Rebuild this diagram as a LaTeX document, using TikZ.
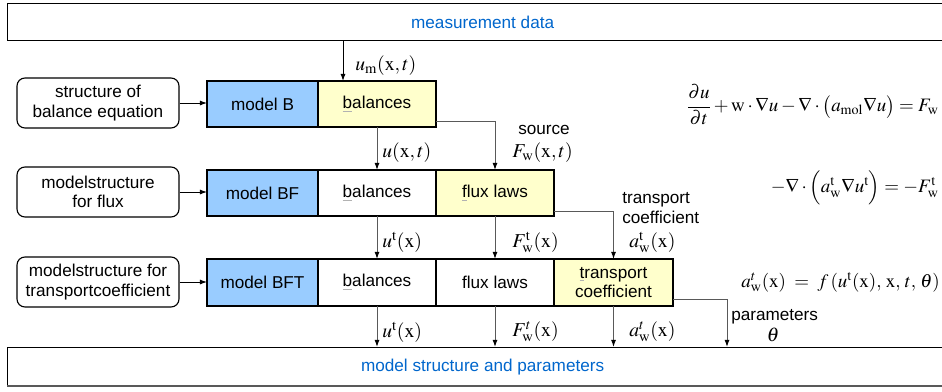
\documentclass[tikz,border=0pt]{standalone}
\usepackage{amsmath}
\usepackage{mathptmx}
\usepackage[no-math]{fontspec}
\setmainfont{Liberation Sans}
\usetikzlibrary{arrows.meta, positioning}

\definecolor{modelblue}{RGB}{153,204,255}
\definecolor{activeyellow}{RGB}{255,255,204}
\definecolor{titleblue}{RGB}{0,102,204}

% first letter with the faint gray mark under it
\newcommand{\markfirst}[1]{{\color{black!30}\underline{\color{black}#1}}}

\begin{document}
\begin{tikzpicture}[
    x=0.25mm, y=-0.25mm,
    font=\fontsize{12.2}{14}\selectfont,
    box/.style={draw, line width=0.9pt, minimum height=11.5mm, outer sep=0pt, align=center},
    modelbox/.style={box, fill=modelblue, minimum width=27.75mm},
    partbox/.style={box, fill=white, minimum width=29.5mm},
    activebox/.style={box, fill=activeyellow, minimum width=29.5mm},
    structbox/.style={draw, line width=0.8pt, rounded corners=2mm, minimum width=40.5mm, minimum height=12.5mm, align=center, inner sep=1pt},
    databox/.style={draw, line width=0.9pt, minimum width=237.5mm, minimum height=9.25mm, text=titleblue, anchor=north west},
    feed/.style={line width=0.6pt, -{Latex[length=5pt, width=3.5pt]}},
    flow/.style={line width=0.7pt, draw=black!65, -{Latex[length=5pt, width=3.5pt, black]}},
    mlbl/.style={inner sep=0pt, font=\fontsize{14}{16}\selectfont},
    eqlbl/.style={inner sep=0pt, font=\fontsize{13.5}{15}\selectfont},
    tlbl/.style={inner sep=0pt, align=left}
]
    \clip (0,0) rectangle (942,391);

    % data boxes on top and bottom
    \node[databox] (meas) at (7,3) {measurement data};
    \node[databox, minimum height=9.5mm] (result) at (7,347) {model structure and parameters};
    \draw[black!65, line width=1.6pt] (result.south west) -- (result.south east);

    % structure boxes on the left
    \node[structbox] (strB) at (98,103) {structure of\\balance equation};
    \node[structbox] (strBF) at (98,192) {modelstructure\\for flux};
    \node[structbox] (strBFT) at (98,282) {modelstructure for\\transportcoefficient};

    % model B
    \node[modelbox] (modB) at (262.5,104) {model B};
    \node[activebox, right=0pt of modB] (balB) {\markfirst{b}alances};

    % model BF
    \node[modelbox] (modBF) at (262.5,193) {model BF};
    \node[partbox, right=0pt of modBF] (balBF) {\markfirst{b}alances};
    \node[activebox, right=0pt of balBF] (fluxBF) {\markfirst{f}lux laws};

    % model BFT
    \node[modelbox, minimum height=11.75mm] (modBFT) at (262.5,282.5) {model BFT};
    \node[partbox, minimum height=11.75mm, right=0pt of modBFT] (balBFT) {\markfirst{b}alances};
    \node[partbox, minimum height=11.75mm, right=0pt of balBFT] (fluxBFT) {flux laws};
    \node[activebox, minimum height=11.75mm, minimum width=29.75mm, right=0pt of fluxBFT] (trBFT) {\markfirst{t}ransport\\coefficient};

    % structure into the models
    \draw[feed] (strB.east) -- (strB.east -| modB.west);
    \draw[feed] (strBF.east) -- (strBF.east -| modBF.west);
    \draw[feed] (strBFT.east) -- (strBFT.east -| modBFT.west);

    % measurements into the balances
    \coordinate (umx) at (343,0);
    \draw[feed] (meas.south -| umx) -- (balB.north -| umx);
    \node[mlbl, anchor=west] (lUm) at (355,66) {$u_{\mathrm{m}}(\mathrm{x},t)$};

    % model B to model BF
    \draw[flow] (balB.south) -- (balBF.north);
    \draw[flow] ([yshift=1.5mm]balB.south east) -| (fluxBF.north);
    \node[mlbl, anchor=west] (lU) at (382,153) {$u(\mathrm{x},t)$};
    \node[tlbl, anchor=west] (lSrc) at (518,130) {source};
    \node[mlbl, anchor=west] (lFw) at (512,153) {$F_{\mathrm{w}}(\mathrm{x},t)$};

    % model BF to model BFT
    \draw[flow] (balBF.south) -- (balBFT.north);
    \draw[flow] (fluxBF.south) -- (fluxBFT.north);
    \draw[flow] ([yshift=1.25mm]fluxBF.south east) -| (trBFT.north);
    \node[mlbl, anchor=west] (lUt) at (382,242) {$u^{\mathrm{t}}(\mathrm{x})$};
    \node[mlbl, anchor=west] (lFwt) at (512,242) {$F^{\mathrm{t}}_{\mathrm{w}}(\mathrm{x})$};
    \node[tlbl, anchor=west] (lTr) at (622,208) {transport\\coefficient};
    \node[mlbl, anchor=west] (lAwt) at (629,242) {$a^{\mathrm{t}}_{\mathrm{w}}(\mathrm{x})$};

    % model BFT to the result
    \coordinate (parx) at (727,0);
    \draw[flow] (balBFT.south) -- (balBFT.south |- result.north);
    \draw[flow] (fluxBFT.south) -- (fluxBFT.south |- result.north);
    \draw[flow] (trBFT.south) -- (trBFT.south |- result.north);
    \draw[flow] ([yshift=1.75mm]trBFT.south east) -| (result.north -| parx);
    \node[mlbl, anchor=west] (rUt) at (382,332) {$u^{\mathrm{t}}(\mathrm{x})$};
    \node[mlbl, anchor=west] (rFwt) at (512,332) {$F^{t}_{\mathrm{w}}(\mathrm{x})$};
    \node[mlbl, anchor=west] (rAwt) at (629,332) {$a^{t}_{\mathrm{w}}(\mathrm{x})$};
    \node[tlbl, anchor=west] (lPar) at (731,317) {parameters};
    \node[mlbl] (lTheta) at (773,335) {$\theta$};

    % equations on the right
    \node[eqlbl, anchor=east] (eqB) at (939,105) {$\dfrac{\partial u}{\partial t}+\mathrm{w}\cdot\nabla u-\nabla\cdot\bigl(a_{\mathrm{mol}}\nabla u\bigr)=F_{\mathrm{w}}$};
    \node[eqlbl, anchor=east] (eqBF) at (939,188) {$-\nabla\cdot\Bigl(a^{\mathrm{t}}_{\mathrm{w}}\nabla u^{\mathrm{t}}\Bigr)=-F^{\mathrm{t}}_{\mathrm{w}}$};
    \node[eqlbl, anchor=east] (eqBFT) at (940,282) {$a^{t}_{\mathrm{w}}(\mathrm{x})\;=\;f\,(u^{\mathrm{t}}(\mathrm{x}),\,\mathrm{x},\,t,\,\theta)$};
\end{tikzpicture}
\end{document}
